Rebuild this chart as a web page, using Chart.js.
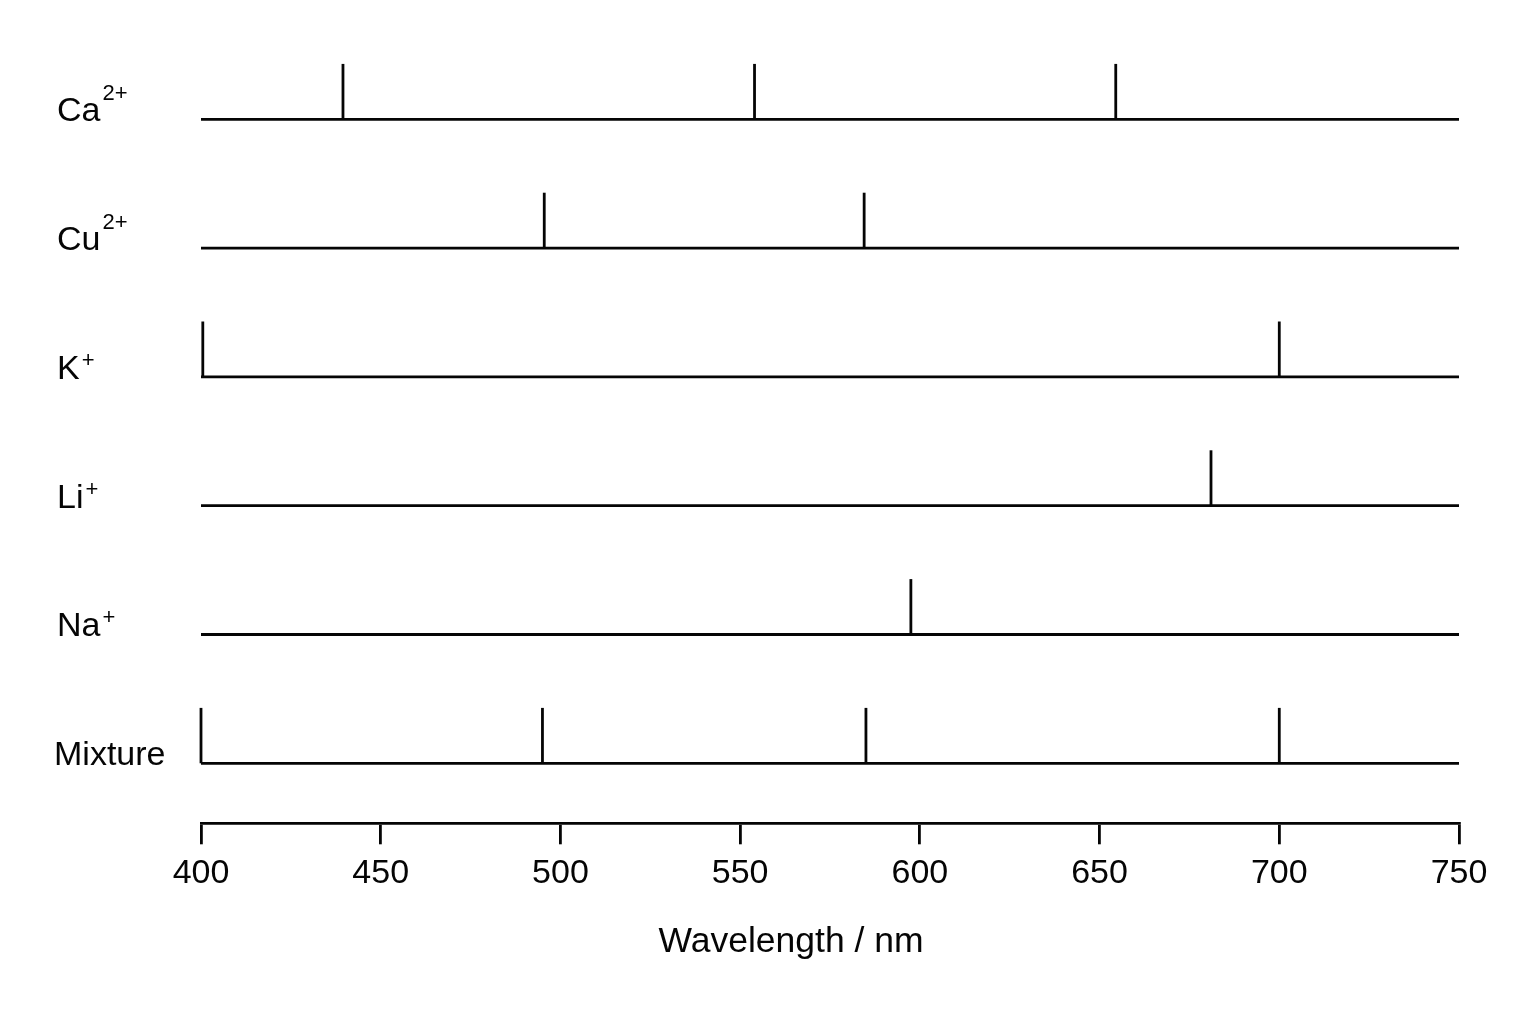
<!DOCTYPE html>
<html>
<head>
<meta charset="utf-8">
<script src="https://cdn.jsdelivr.net/npm/chart.js@4"></script>
<style>
  html, body { margin: 0; padding: 0; background: #ffffff; }
  #wrap { width: 1536px; height: 1024px; }
</style>
</head>
<body>
<div id="wrap"><canvas id="c" width="1536" height="1024"></canvas></div>
<script>
// ---- data ----
const rowNames = ['Ca', 'Cu', 'K', 'Li', 'Na', 'Mixture'];
const rowCharges = ['2+', '2+', '+', '+', '+', ''];
const caLines = [439.5, 554, 654.5];
const cuLines = [495.5, 584.5];
const kLines = [400.5, 700];
const liLines = [681];
const naLines = [597.5];
const mixLines = [400, 495, 585, 700];
const rowLines = [caLines, cuLines, kLines, liLines, naLines, mixLines];
const xMin = 400, xMax = 750, xStep = 50;
const axisTitle = 'Wavelength / nm';

// ---- build datasets ----
const PEAK_H = 0.43;
const LW = 2.8;
const INK = '#050505';
const datasets = [];
rowNames.forEach((name, i) => {
  const yv = rowNames.length - 1 - i;
  datasets.push({
    label: name + ' baseline',
    data: [{ x: xMin, y: yv }, { x: xMax, y: yv }],
    borderColor: INK, borderWidth: LW, pointRadius: 0, clip: false
  });
  rowLines[i].forEach(w => {
    datasets.push({
      label: name + ' ' + w,
      data: [{ x: w, y: yv }, { x: w, y: yv + PEAK_H }],
      borderColor: INK, borderWidth: LW, pointRadius: 0, clip: false
    });
  });
});

const FONT = '"Liberation Sans", Arial, Helvetica, sans-serif';

const labelPlugin = {
  id: 'rowLabels',
  afterDraw(chart) {
    const ctx = chart.ctx;
    const ys = chart.scales.y;
    ctx.save();
    ctx.fillStyle = INK;
    ctx.textBaseline = 'alphabetic';
    ctx.textAlign = 'left';
    rowNames.forEach((name, i) => {
      const yv = rowNames.length - 1 - i;
      const py = ys.getPixelForValue(yv) + 2;
      const px = name === 'Mixture' ? 54 : 57;
      ctx.font = '34px ' + FONT;
      ctx.fillText(name, px, py);
      const w = ctx.measureText(name).width;
      const sup = rowCharges[i];
      if (sup) {
        ctx.font = '22px ' + FONT;
        const rise = /\d/.test(sup) ? 21 : 12;
        ctx.fillText(sup, px + w + 2, py - rise);
      }
    });
    // axis title
    ctx.font = '35.5px ' + FONT;
    ctx.textAlign = 'center';
    ctx.fillText(axisTitle, 791, 952);
    ctx.restore();
  }
};

new Chart(document.getElementById('c'), {
  type: 'line',
  data: { datasets },
  options: {
    responsive: false,
    animation: false,
    parsing: true,
    layout: { padding: { left: 201, right: 77, top: 50, bottom: 0 } },
    plugins: { legend: { display: false }, tooltip: { enabled: false } },
    scales: {
      x: {
        type: 'linear',
        min: xMin, max: xMax,
        afterFit(scale) { scale.height = 200.7; },
        ticks: {
          stepSize: xStep,
          color: INK,
          font: { family: FONT, size: 34 },
          padding: 9,
          maxRotation: 0
        },
        grid: {
          display: true,
          drawOnChartArea: false,
          drawTicks: true,
          tickLength: 21,
          lineWidth: LW,
          color: INK
        },
        border: { display: true, width: LW, color: INK }
      },
      y: {
        type: 'linear',
        display: false,
        min: -0.466,
        max: 5.538
      }
    }
  },
  plugins: [labelPlugin]
});
</script>
</body>
</html>
